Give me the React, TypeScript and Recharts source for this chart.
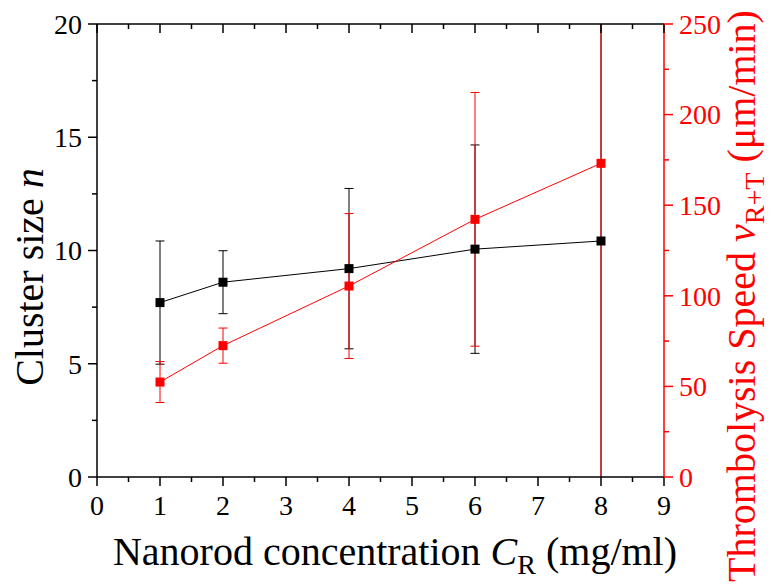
import React from 'react';
import { ComposedChart, Line, XAxis, YAxis, ErrorBar, usePlotArea } from 'recharts';

// concentration (mg/ml)
const concentration = [1, 2, 4, 6, 8];
// cluster size n (left axis) and its error
const clusterSize = [7.7, 8.6, 9.2, 10.06, 10.42];
const clusterErr = [2.72, 1.39, 3.54, 4.6, 12];
// thrombolysis speed (right axis, um/min) and its error
const speed = [52.4, 72.5, 105.4, 142.2, 173.1];
const speedErr = [11.3, 9.7, 40, 70, 260];

// tick positions (majors get labels)
const xTicks = [0, 0.5, 1, 1.5, 2, 2.5, 3, 3.5, 4, 4.5, 5, 5.5, 6, 6.5, 7, 7.5, 8, 8.5, 9];
const leftTicks = [0, 2.5, 5, 7.5, 10, 12.5, 15, 17.5, 20];
const rightTicks = [0, 25, 50, 75, 100, 125, 150, 175, 200, 225, 250];

const data = concentration.map((c, i) => ({
  c,
  n: clusterSize[i],
  nErr: clusterErr[i],
  v: speed[i],
  vErr: speedErr[i],
}));

const SERIF: React.CSSProperties = { fontFamily: "'Liberation Serif', serif" };
const RED = '#ff0000';
const TICK_FS = 28;
const TITLE_FS = 40;

const BottomTick = (p: any) => {
  const major = Number.isInteger(p.payload.value);
  return (
    <g>
      <line x1={p.x} y1={p.y} x2={p.x} y2={p.y + (major ? 9 : 5)} stroke="#000" strokeWidth={1.5} />
      {major && (
        <text x={p.x} y={p.y + 38} textAnchor="middle" style={SERIF} fontSize={TICK_FS} fill="#000">
          {p.payload.value}
        </text>
      )}
    </g>
  );
};

const TopTick = (p: any) => {
  const major = Number.isInteger(p.payload.value);
  return <line x1={p.x} y1={p.y} x2={p.x} y2={p.y + (major ? 9 : 5)} stroke="#000" strokeWidth={1.5} />;
};

const LeftTick = (p: any) => {
  const major = p.payload.value % 5 === 0;
  return (
    <g>
      <line x1={p.x} y1={p.y} x2={p.x - (major ? 9 : 5)} y2={p.y} stroke="#000" strokeWidth={1.5} />
      {major && (
        <text x={p.x - 15} y={p.y} dy="0.35em" textAnchor="end" style={SERIF} fontSize={TICK_FS} fill="#000">
          {p.payload.value}
        </text>
      )}
    </g>
  );
};

const RightTick = (p: any) => {
  const major = p.payload.value % 50 === 0;
  return (
    <g>
      <line x1={p.x} y1={p.y} x2={p.x + (major ? 9 : 5)} y2={p.y} stroke={RED} strokeWidth={1.5} />
      {major && (
        <text x={p.x + 15} y={p.y} dy="0.35em" textAnchor="start" style={SERIF} fontSize={TICK_FS} fill={RED}>
          {p.payload.value}
        </text>
      )}
    </g>
  );
};

const xTitle = () => (
  <text x={395} y={565} textAnchor="middle" style={SERIF} fontSize={TITLE_FS} fill="#000">
    Nanorod concentration <tspan fontStyle="italic">C</tspan>
    <tspan fontSize={28} dy={9}>R</tspan>
    <tspan dy={-9}> (mg/ml)</tspan>
  </text>
);

const leftTitle = () => (
  <text transform="translate(43, 277) rotate(-90)" textAnchor="middle" style={SERIF} fontSize={TITLE_FS} fill="#000">
    Cluster size <tspan fontStyle="italic">n</tspan>
  </text>
);

const rightTitle = () => (
  <text transform="translate(755, 296) rotate(-90)" textAnchor="middle" style={SERIF} fontSize={TITLE_FS} fill={RED}>
    Thrombolysis Speed <tspan fontStyle="italic">v</tspan>
    <tspan fontSize={28} dy={9}>R+T</tspan>
    <tspan dy={-9}> (μm/min)</tspan>
  </text>
);

// error bars run past the frame at 8 mg/ml: clip them to the plot area
const PlotClip = () => {
  const area = usePlotArea();
  if (!area) return null;
  return (
    <defs>
      <clipPath id="plot-clip">
        <rect x={area.x} y={area.y} width={area.width} height={area.height} />
      </clipPath>
    </defs>
  );
};

const square = (color: string) => (p: any) => (
  <rect key={`sq-${color}-${p.index}`} x={p.cx - 4.5} y={p.cy - 4.5} width={9} height={9} fill={color} />
);

export default function App() {
  return (
    <div style={{ position: 'absolute', left: 0, top: 0, background: '#fff' }}>
      <style>{`.recharts-errorBars, .recharts-errorBar { clip-path: url(#plot-clip); }`}</style>
      <ComposedChart width={775} height={586} data={data} margin={{ top: 14, right: 51, bottom: 49, left: 37 }}>
        <PlotClip />
        <XAxis
          xAxisId="b"
          dataKey="c"
          type="number"
          domain={[0, 9]}
          ticks={xTicks}
          interval={0}
          height={60}
          tickSize={0}
          tickMargin={0}
          tick={BottomTick}
          axisLine={{ stroke: '#000', strokeWidth: 1.5 }}
          label={xTitle}
        />
        <XAxis
          xAxisId="t"
          orientation="top"
          dataKey="c"
          type="number"
          domain={[0, 9]}
          ticks={xTicks}
          interval={0}
          height={10}
          tickSize={0}
          tickMargin={0}
          tick={TopTick}
          axisLine={{ stroke: '#000', strokeWidth: 1.5 }}
        />
        <YAxis
          yAxisId="left"
          domain={[0, 20]}
          allowDataOverflow
          ticks={leftTicks}
          interval={0}
          width={60}
          tickSize={0}
          tickMargin={0}
          tick={LeftTick}
          axisLine={{ stroke: '#000', strokeWidth: 1.5 }}
          label={leftTitle}
        />
        <YAxis
          yAxisId="right"
          orientation="right"
          domain={[0, 250]}
          allowDataOverflow
          ticks={rightTicks}
          interval={0}
          width={60}
          tickSize={0}
          tickMargin={0}
          tick={RightTick}
          axisLine={{ stroke: RED, strokeWidth: 1.5 }}
          label={rightTitle}
        />
        <Line
          xAxisId="b"
          yAxisId="left"
          dataKey="n"
          stroke="#000"
          strokeWidth={1}
          dot={square('#000')}
          activeDot={false}
          isAnimationActive={false}
        >
          <ErrorBar dataKey="nErr" direction="y" width={4.5} stroke="#000" strokeWidth={1} isAnimationActive={false} />
        </Line>
        <Line
          xAxisId="b"
          yAxisId="right"
          dataKey="v"
          stroke={RED}
          strokeWidth={1}
          dot={square(RED)}
          activeDot={false}
          isAnimationActive={false}
        >
          <ErrorBar dataKey="vErr" direction="y" width={4.5} stroke={RED} strokeWidth={1} isAnimationActive={false} />
        </Line>
      </ComposedChart>
    </div>
  );
}
